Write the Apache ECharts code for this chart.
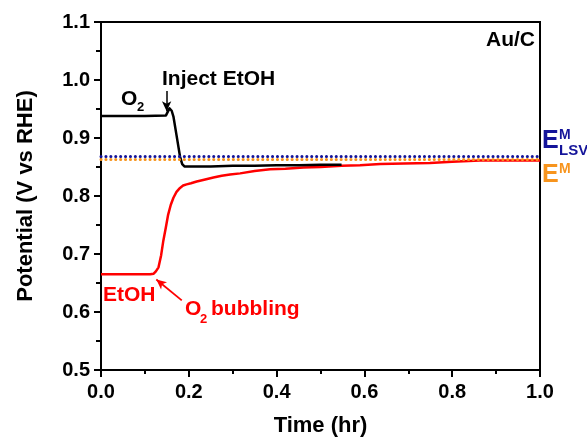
<!DOCTYPE html>
<html>
<head>
<meta charset="utf-8">
<script src="https://cdn.jsdelivr.net/npm/echarts@6/dist/echarts.min.js"></script>
<style>
html,body{margin:0;padding:0;background:#fff;}
#c{width:587px;height:442px;}
</style>
</head>
<body>
<div id="c"></div>
<script>
// ---- data ----
var o2Time = [0, 0.05, 0.10, 0.148, 0.152, 0.156, 0.158, 0.161, 0.165, 0.172, 0.180, 0.185, 0.190, 0.20, 0.25, 0.30, 0.35, 0.40, 0.45, 0.50, 0.548];
var o2Potential = [0.938, 0.938, 0.938, 0.939, 0.945, 0.951, 0.953, 0.947, 0.937, 0.905, 0.868, 0.855, 0.851, 0.851, 0.851, 0.852, 0.852, 0.853, 0.853, 0.854, 0.854];

var etohTime = [0, 0.05, 0.10, 0.112, 0.116, 0.120, 0.125, 0.131, 0.137, 0.142, 0.148, 0.153, 0.159, 0.165, 0.172, 0.180, 0.187, 0.195, 0.205, 0.218, 0.235, 0.256, 0.275, 0.294, 0.317, 0.35, 0.385, 0.42, 0.461, 0.50, 0.548, 0.59, 0.636, 0.69, 0.749, 0.80, 0.863, 0.95, 1.0];
var etohPotential = [0.665, 0.665, 0.665, 0.665, 0.664, 0.666, 0.670, 0.677, 0.698, 0.723, 0.747, 0.768, 0.785, 0.797, 0.807, 0.814, 0.818, 0.820, 0.822, 0.825, 0.828, 0.832, 0.835, 0.837, 0.839, 0.843, 0.846, 0.847, 0.849, 0.850, 0.852, 0.853, 0.855, 0.856, 0.857, 0.859, 0.861, 0.861, 0.861];

var eLsvLevel = 0.868;   // E^M_LSV dotted line
var eMLevel = 0.863;     // E^M dotted line

var injectArrow = [[0.1495, 0.981], [0.1495, 0.946]];
var bubbleArrow = [[0.184, 0.620], [0.126, 0.656]];

var xTicks = ['0.0', '0.2', '0.4', '0.6', '0.8', '1.0'];
var yTicks = ['0.5', '0.6', '0.7', '0.8', '0.9', '1.0', '1.1'];

function zip(a, b) { return a.map(function (v, i) { return [v, b[i]]; }); }

var FF = '"Liberation Sans", Arial, sans-serif';
var RED = '#ff0000';
var BLUE = '#14149a';
var ORANGE = '#f7941d';

var chart = echarts.init(document.getElementById('c'), null, {renderer: 'canvas'});

function txt(x, y, s, size, color, align) {
  return {
    type: 'text', x: x, y: y, z: 100,
    style: {
      text: s, fill: color, font: 'bold ' + size + 'px ' + FF,
      align: align || 'left', verticalAlign: 'middle'
    }
  };
}

var option = {
  backgroundColor: '#fff',
  animation: false,
  grid: {left: 101, right: 47, top: 22, bottom: 68, show: true, borderColor: '#000', borderWidth: 2, backgroundColor: 'transparent'},
  xAxis: {
    type: 'value', min: 0, max: 1, interval: 0.2,
    name: 'Time (hr)', nameLocation: 'middle', nameGap: 45,
    nameTextStyle: {fontFamily: FF, fontWeight: 'bold', fontSize: 22, color: '#000'},
    axisLine: {onZero: false, lineStyle: {color: '#000', width: 2}},
    axisTick: {length: 7, lineStyle: {color: '#000', width: 2}},
    minorTick: {show: true, splitNumber: 2, length: 4, lineStyle: {color: '#000', width: 2}},
    splitLine: {show: false}, minorSplitLine: {show: false},
    axisLabel: {
      margin: 12, fontFamily: FF, fontWeight: 'bold', fontSize: 20, color: '#000',
      formatter: function (v) { return xTicks[Math.round(v / 0.2)]; }
    }
  },
  yAxis: {
    type: 'value', min: 0.5, max: 1.1, interval: 0.1,
    name: 'Potential (V vs RHE)', nameLocation: 'middle', nameGap: 64,
    nameTextStyle: {fontFamily: FF, fontWeight: 'bold', fontSize: 22, color: '#000'},
    axisLine: {onZero: false, lineStyle: {color: '#000', width: 2}},
    axisTick: {length: 7, lineStyle: {color: '#000', width: 2}},
    minorTick: {show: true, splitNumber: 2, length: 5, lineStyle: {color: '#000', width: 2}},
    splitLine: {show: false}, minorSplitLine: {show: false},
    axisLabel: {
      margin: 11, fontFamily: FF, fontWeight: 'bold', fontSize: 20, color: '#000',
      formatter: function (v) { return yTicks[Math.round((v - 0.5) / 0.1)]; }
    }
  },
  series: [
    {
      type: 'line', name: 'EtOH', data: zip(etohTime, etohPotential),
      showSymbol: false, smooth: false,
      lineStyle: {color: RED, width: 2.5, join: 'round'}, z: 3, silent: true
    },
    {
      type: 'line', name: 'O2', data: zip(o2Time, o2Potential),
      showSymbol: false, smooth: false,
      lineStyle: {color: '#000', width: 2.5, join: 'round'}, z: 4, silent: true,
      markLine: {
        silent: true, symbol: ['none', 'arrow'], symbolSize: [7, 10], precision: 4,
        label: {show: false},
        lineStyle: {color: '#000', width: 1.5, type: 'solid'},
        data: [[{coord: injectArrow[0]}, {coord: injectArrow[1]}]]
      }
    },
    {
      type: 'line', data: [[0, eMLevel], [1, eMLevel]], showSymbol: false, z: 5, silent: true,
      lineStyle: {color: ORANGE, width: 3, type: [0.1, 4.8], cap: 'round'}
    },
    {
      type: 'line', data: [[0, eLsvLevel], [1, eLsvLevel]], showSymbol: false, z: 6, silent: true,
      lineStyle: {color: BLUE, width: 3, type: [0.1, 4.8], cap: 'round'},
      markLine: {
        silent: true, symbol: ['none', 'arrow'], symbolSize: [7, 10], precision: 4,
        label: {show: false},
        lineStyle: {color: RED, width: 1.8, type: 'solid'},
        data: [[{coord: bubbleArrow[0]}, {coord: bubbleArrow[1]}]]
      }
    }
  ],
  graphic: [
    txt(535, 40, 'Au/C', 21, '#000', 'right'),
    txt(162, 79, 'Inject EtOH', 21, '#000'),
    txt(121, 99, 'O', 21, '#000'),
    txt(137, 107, '2', 13, '#000'),
    txt(103, 295, 'EtOH', 21, RED),
    txt(185, 309, 'O', 21, RED),
    txt(200, 319, '2', 13, RED),
    txt(211, 309, 'bubbling', 21, RED),
    txt(542, 141, 'E', 25, BLUE),
    txt(559, 135, 'M', 14, BLUE),
    txt(559, 151, 'LSV', 15, BLUE),
    txt(542, 175, 'E', 25, ORANGE),
    txt(559, 169, 'M', 14, ORANGE)
  ]
};
chart.setOption(option);
</script>
</body>
</html>
